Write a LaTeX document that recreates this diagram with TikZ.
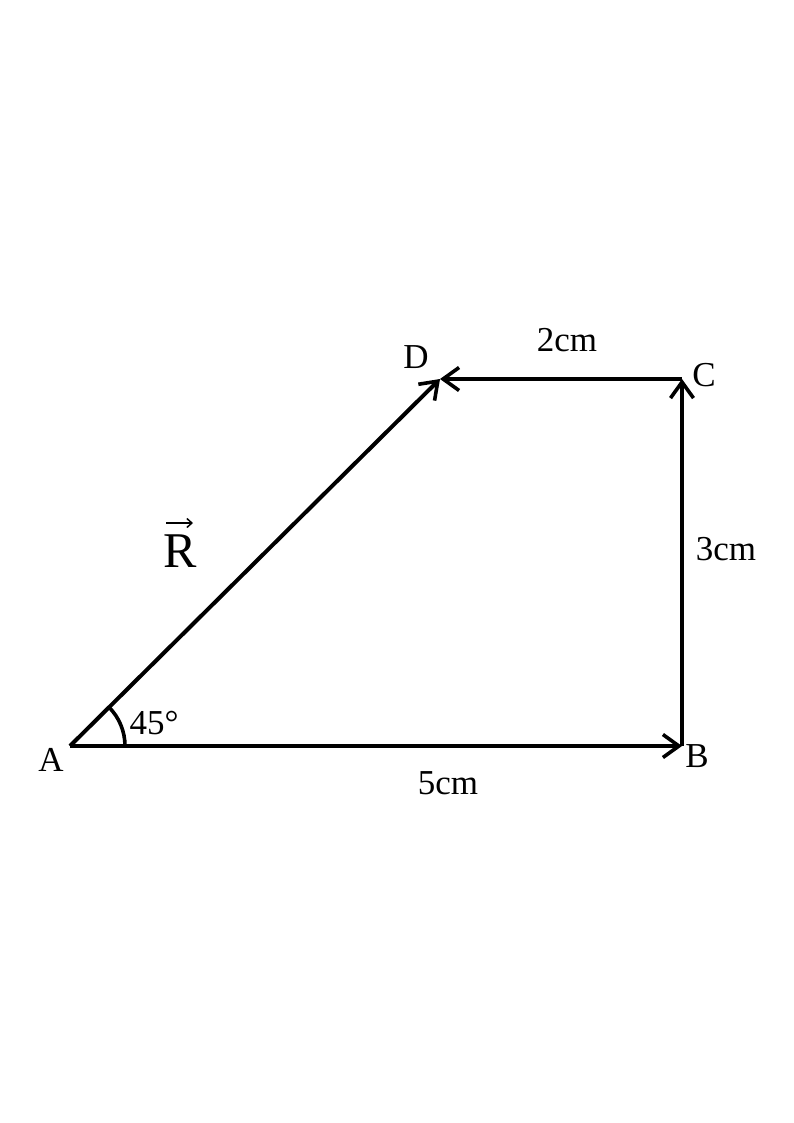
\documentclass[tikz,border=0pt]{standalone}
\usepackage{fontspec}
\setmainfont{Liberation Serif}
\usetikzlibrary{arrows.meta}
\begin{document}
\begin{tikzpicture}[x=1pt,y=-1pt,
  vec/.style={line width=4pt, line cap=butt,
    -{Straight Barb[length=16pt,width=23pt,line width=3.6pt]}},
  lbl/.style={inner sep=0pt, font=\fontsize{35}{40}\selectfont}]
\useasboundingbox (0,0) rectangle (794,1123);
\coordinate (A) at (70,746);
\coordinate (B) at (682,746);
\coordinate (C) at (682,379);
\coordinate (D) at (440,379);
\draw[vec] (A) -- (B);
\draw[vec] (B) -- (C);
\draw[vec] (C) -- (D);
\draw[vec] (A) -- (D);
\draw[line width=3.6pt] (125,746) arc[start angle=0, end angle=-45, radius=55];
\node[lbl] (lA) at (51,760) {A};
\node[lbl] (lB) at (697,756) {B};
\node[lbl] (lC) at (704,375) {C};
\node[lbl] (lD) at (416,357) {D};
\node[lbl] (l5) at (448,783) {5cm};
\node[lbl] (l2) at (567,340) {2cm};
\node[lbl] (l3) at (726,549) {3cm};
\node[lbl] (l45) at (154,723) {45°};
\node[inner sep=0pt, font=\fontsize{50}{56}\selectfont] (lR) at (180,551) {R};
\coordinate (v1) at (166,523);
\coordinate (v2) at (193,523);
\draw[line width=1.8pt, -{Straight Barb[length=5pt,width=9pt,line width=1.5pt]}] (v1) -- (v2);
\end{tikzpicture}
\end{document}
